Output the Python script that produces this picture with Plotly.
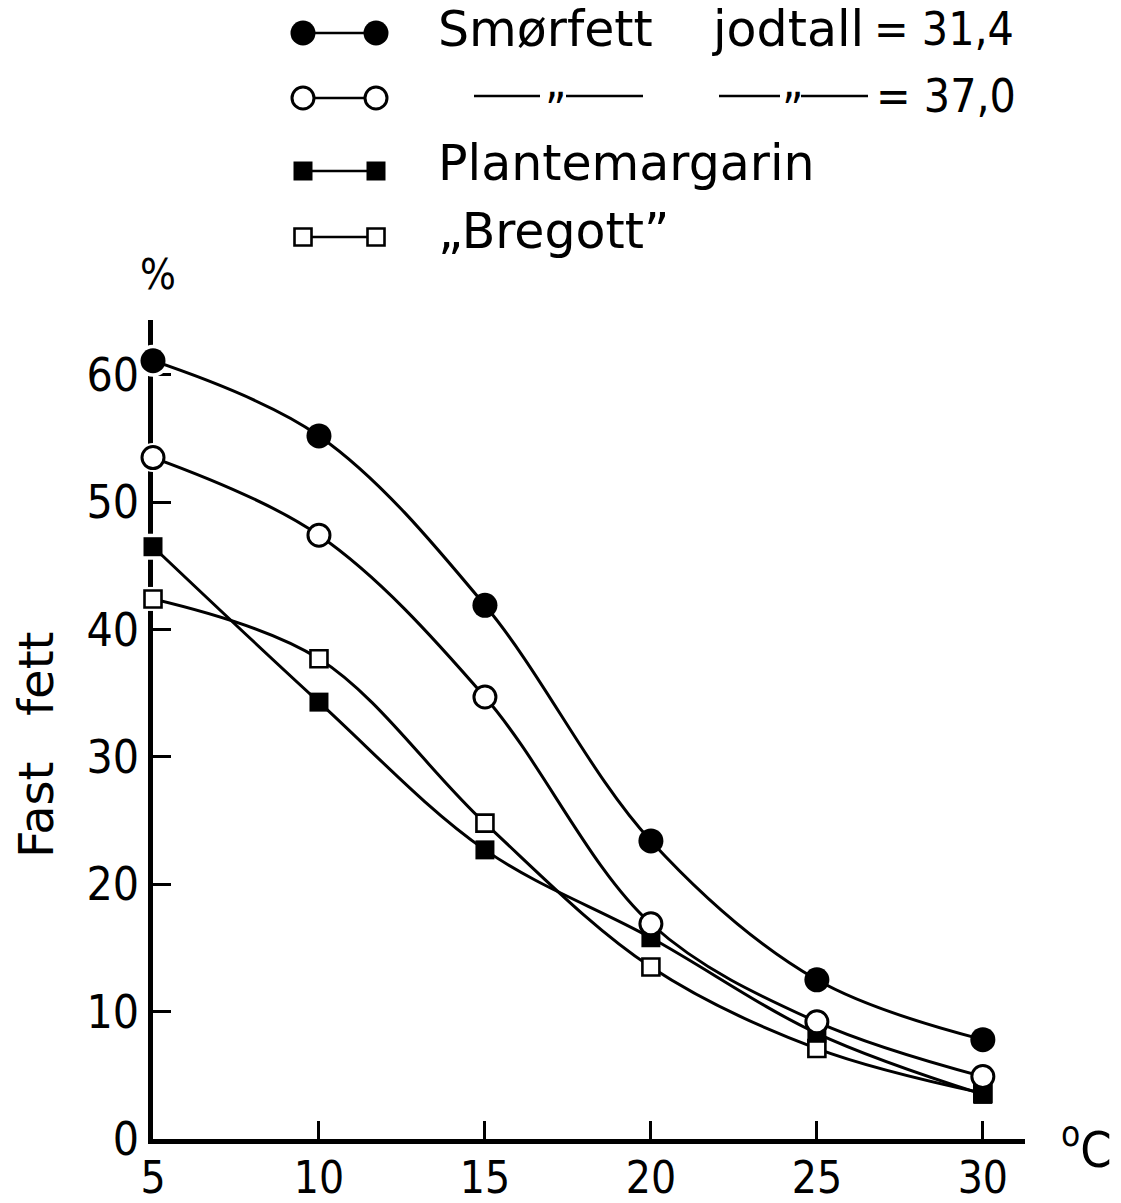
import plotly.graph_objects as go

# ---- data ----
temps = [5, 10, 15, 20, 25, 30]
smorfett_314 = [61.1, 55.2, 41.9, 23.4, 12.5, 7.8]
smorfett_370 = [53.5, 47.4, 34.7, 16.9, 9.2, 4.9]
plantemargarin = [46.5, 34.3, 22.7, 15.8, 8.3, 3.5]
bregott = [42.4, 37.7, 24.8, 13.5, 7.1, 3.6]

x_ticks = [5, 10, 15, 20, 25, 30]
y_ticks = [0, 10, 20, 30, 40, 50, 60]

FONT = "DejaVu Sans Condensed, Liberation Sans Narrow, DejaVu Sans, sans-serif"
WIDE = "DejaVu Sans, Verdana, sans-serif"
W, H = 1121, 1203

styles = {
    "bregott": dict(symbol="square", size=17, color="white", line=dict(color="black", width=2.6)),
    "plante": dict(symbol="square", size=19, color="black", line=dict(color="black", width=0)),
    "s370": dict(symbol="circle", size=22, color="white", line=dict(color="black", width=3)),
    "s314": dict(symbol="circle", size=25, color="black", line=dict(color="black", width=0)),
}

series = [
    ("„Bregott”", bregott, "bregott"),
    ("Plantemargarin", plantemargarin, "plante"),
    ("Smørfett jodtall = 37,0", smorfett_370, "s370"),
    ("Smørfett jodtall = 31,4", smorfett_314, "s314"),
]

fig = go.Figure()

# white halos at the axis so the axis line breaks around the first markers
for name, ys, key in series:
    fig.add_trace(go.Scatter(
        x=temps[:1], y=ys[:1], mode="markers", cliponaxis=False, hoverinfo="skip",
        marker=dict(symbol=styles[key]["symbol"], size=styles[key]["size"] + 7, color="white"),
        showlegend=False, xaxis="x", yaxis="y"))

for name, ys, key in series:
    fig.add_trace(go.Scatter(
        x=temps, y=ys, mode="lines+markers", name=name, cliponaxis=False,
        line=dict(color="black", width=3, shape="spline", smoothing=1.0),
        marker=styles[key], showlegend=False, xaxis="x", yaxis="y"))

# ---- custom legend drawn on a pixel-coordinate overlay axis ----
leg_rows = [("s314", 33), ("s370", 98), ("plante", 171), ("bregott", 237)]
for key, yy in leg_rows:
    fig.add_trace(go.Scatter(
        x=[303, 376], y=[yy, yy], mode="lines+markers", cliponaxis=False,
        line=dict(color="black", width=2.6), marker=styles[key],
        showlegend=False, hoverinfo="skip", xaxis="x2", yaxis="y2"))

annotations = [
    dict(text="Smørfett", x=436, y=29, xanchor="left", yanchor="middle", fam=WIDE, size=49),
    dict(text="jodtall", x=710, y=29, xanchor="left", yanchor="middle", fam=WIDE, size=49),
    dict(text="= 31,4", x=1016, y=29, xanchor="right", yanchor="middle"),
    dict(text="= 37,0", x=1018, y=96, xanchor="right", yanchor="middle"),
    dict(text="Plantemargarin", x=436, y=163, xanchor="left", yanchor="middle", fam=WIDE, size=49),
    dict(text="„Bregott”", x=436, y=231, xanchor="left", yanchor="middle", fam=WIDE, size=49),
    dict(text="„", x=555, y=82, xanchor="center", yanchor="middle"),
    dict(text="„", x=792, y=82, xanchor="center", yanchor="middle"),
    dict(text="%", x=158, y=274, xanchor="center", yanchor="middle", size=42),
    dict(text="<sup>o</sup>C", x=1086, y=1146, xanchor="center", yanchor="middle", size=50),
    dict(text="Fast   fett", x=36, y=745, xanchor="center", yanchor="middle", textangle=-90,
         fam=WIDE, size=48),
]
ann_list = []
for a in annotations:
    size = a.pop("size", 46)
    fam = a.pop("fam", FONT)
    ann_list.append(dict(**a, xref="x2", yref="y2", showarrow=False,
                         font=dict(family=fam, size=size, color="black")))

shapes = []
for x0, x1 in [(474, 540), (566, 643), (719, 780), (801, 868)]:
    shapes.append(dict(type="line", xref="x2", yref="y2", x0=x0, x1=x1, y0=96, y1=96,
                       line=dict(color="black", width=2.6)))

x_left, x_right = 153, 1025
y_bottom, y_top = 1139, 320

fig.update_layout(
    width=W, height=H,
    margin=dict(l=0, r=0, t=0, b=0, pad=0),
    paper_bgcolor="white", plot_bgcolor="rgba(0,0,0,0)",
    showlegend=False,
    font=dict(family=FONT, size=46, color="black"),
    annotations=ann_list,
    shapes=shapes,
    xaxis=dict(
        domain=[x_left / W, x_right / W], range=[5, 31.27], anchor="y",
        tickvals=x_ticks, ticktext=[str(v) for v in x_ticks],
        ticks="inside", ticklen=18, tickwidth=3, tickcolor="black",
        showline=True, linewidth=4.5, linecolor="black", layer="below traces",
        showgrid=False, zeroline=False, automargin=False,
        tickfont=dict(family=FONT, size=44, color="black"), ticklabelstandoff=-4,
        fixedrange=True,
    ),
    yaxis=dict(
        domain=[1 - y_bottom / H, 1 - y_top / H], range=[0, 64.3], anchor="x",
        tickvals=y_ticks, ticktext=[str(v) for v in y_ticks],
        ticks="inside", ticklen=18, tickwidth=3, tickcolor="black",
        showline=True, linewidth=4.5, linecolor="black", layer="below traces",
        showgrid=False, zeroline=False, automargin=False,
        tickfont=dict(family=FONT, size=46, color="black"), ticklabelstandoff=0,
        fixedrange=True,
    ),
    xaxis2=dict(domain=[0, 1], range=[0, W], anchor="y2", visible=False,
                showgrid=False, zeroline=False, fixedrange=True),
    yaxis2=dict(domain=[0, 1], range=[H, 0], anchor="x2", visible=False,
                showgrid=False, zeroline=False, fixedrange=True),
)

fig.write_html("out.html", config={"displayModeBar": False})
